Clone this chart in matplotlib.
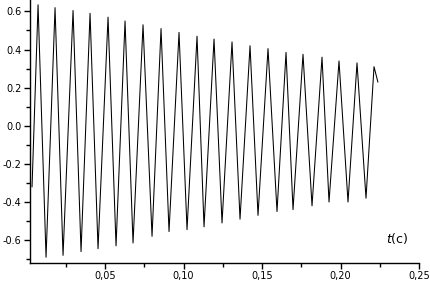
import numpy as np
import matplotlib.pyplot as plt
from matplotlib.ticker import MultipleLocator, FuncFormatter

# extrema (time in s, signal value)
PEAK_T = [0.00733, 0.01815, 0.02962, 0.04045, 0.05191, 0.06274, 0.07420,
          0.08567, 0.09713, 0.10860, 0.11943, 0.13089, 0.14236, 0.15382,
          0.16529, 0.17611, 0.18822, 0.19904, 0.21051, 0.22134]
PEAK_V = [0.635, 0.62, 0.605, 0.59, 0.57, 0.55, 0.53, 0.51, 0.49, 0.47,
          0.455, 0.44, 0.42, 0.405, 0.385, 0.375, 0.36, 0.34, 0.33, 0.31]
TROUGH_T = [0.01242, 0.02325, 0.03471, 0.04554, 0.05701, 0.06783, 0.07994,
            0.09076, 0.10223, 0.11306, 0.12452, 0.13599, 0.14745, 0.15955,
            0.16975, 0.18185, 0.19268, 0.20478, 0.21624]
TROUGH_V = [-0.69, -0.68, -0.66, -0.645, -0.63, -0.615, -0.58, -0.555,
            -0.545, -0.53, -0.51, -0.49, -0.47, -0.45, -0.44, -0.42,
            -0.40, -0.40, -0.38]
START = (0.0035, -0.32)
END = (0.2238, 0.23)

# merge the extrema into one trace, ordered in time
t = [START[0]] + PEAK_T + TROUGH_T + [END[0]]
v = [START[1]] + PEAK_V + TROUGH_V + [END[1]]
order = np.argsort(t)
t = np.array(t)[order]
v = np.array(v)[order]

fig = plt.figure(figsize=(4.30, 2.84), dpi=100)
ax = fig.add_axes([30 / 430, 21 / 284, 389 / 430, 263 / 284])

ax.plot(t, v, color='black', linewidth=0.75)

ax.set_xlim(0.0022, 0.25)
ax.set_ylim(-0.72, 0.66)

for side in ['top', 'right']:
    ax.spines[side].set_visible(False)
for side in ['left', 'bottom']:
    ax.spines[side].set_linewidth(1.0)

ax.xaxis.set_major_locator(MultipleLocator(0.05))
ax.xaxis.set_minor_locator(MultipleLocator(0.025))
ax.yaxis.set_major_locator(MultipleLocator(0.2))
ax.yaxis.set_minor_locator(MultipleLocator(0.1))

ax.xaxis.set_major_formatter(FuncFormatter(
    lambda x, pos: '' if abs(x) < 1e-9 else f'{x:.2f}'.replace('.', ',')))
ax.yaxis.set_major_formatter(FuncFormatter(
    lambda y, pos: f'{y:.1f}'.replace('-0.0', '0.0')))

ax.tick_params(which='both', direction='out', width=1.0, labelsize=7,
               color='black', labelcolor='black')
ax.tick_params(which='major', length=4, pad=2)
ax.tick_params(which='minor', length=3)

ax.text(0.945, 0.095, r'$t$(c)', transform=ax.transAxes,
        ha='center', va='center', fontsize=9)

plt.savefig('out.png', dpi=100)
